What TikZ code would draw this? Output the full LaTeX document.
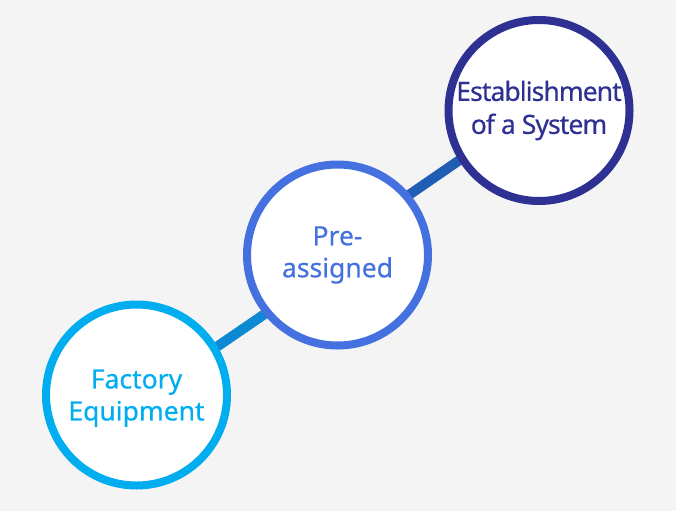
\documentclass[tikz,border=0pt]{standalone}
\usepackage{fontspec}
\setmainfont{Noto Sans}[FakeBold=0.5]
\usetikzlibrary{backgrounds}
\definecolor{paper}{HTML}{F4F4F4}
\definecolor{skyring}{HTML}{00AEEF}
\definecolor{royalring}{HTML}{4571E0}
\definecolor{navyring}{HTML}{2E3192}
\definecolor{skylink}{HTML}{0D88D2}
\definecolor{navylink}{HTML}{1F5EB4}
\begin{document}
\begin{tikzpicture}[x=1pt,y=-1pt,
  ring/.style={circle,draw=#1,text=#1,fill=white,line width=8pt,
    minimum size=181pt,inner sep=0pt,align=center,
    font=\fontsize{26.5}{32}\selectfont},
  link/.style={draw=#1,line width=10pt,shorten <=-6pt,shorten >=-6pt}]

\useasboundingbox (0,0) rectangle (676,511);

% the three steps
\node[ring=skyring,text depth=-2pt] (fe) at (136.5,395) {Factory\\Equipment};
\node[ring=royalring] (pa) at (337.5,255) {Pre-\\assigned};
\node[ring=navyring,font=\fontsize{26.5}{33}\selectfont\addfontfeatures{LetterSpace=-3.5}]
  (es) at (539,110.5) {Establishment\\of a System};

% links behind the rings
\begin{pgfonlayer}{background}
\fill[paper] (0,0) rectangle (676,511);
\draw[link=skylink] (fe.31) -- (pa.219);
\draw[link=navylink] (pa.40) -- (es.212);
\end{pgfonlayer}
\end{tikzpicture}
\end{document}
